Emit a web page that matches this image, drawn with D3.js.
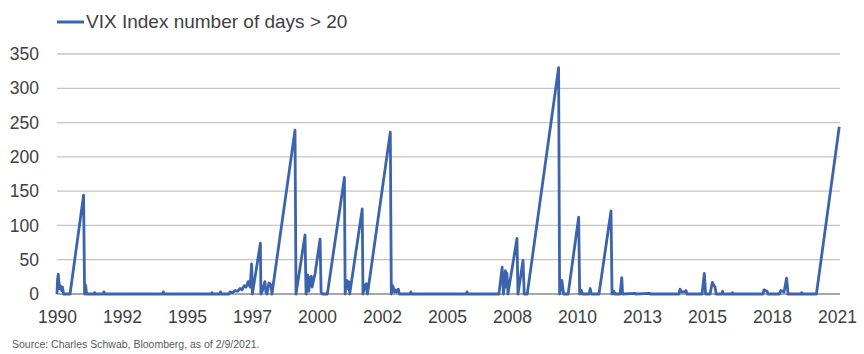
<!DOCTYPE html>
<html>
<head>
<meta charset="utf-8">
<script src="https://cdn.jsdelivr.net/npm/d3@7"></script>
<style>
  body { margin: 0; background: #fff; }
  text { font-family: "Liberation Sans", Arial, sans-serif; }
</style>
</head>
<body>
<div id="chart-area"></div>
<script>
// decimal years
let years = [
  1990.00, 1990.02, 1990.05, 1990.10, 1990.14, 1990.18, 1990.22, 1990.26, 1990.52, 1991.06,
  1991.10, 1991.14, 1991.18, 1991.48, 1991.50, 1991.52, 1991.85, 1991.87, 1991.89, 1994.22,
  1994.24, 1994.26, 1996.16, 1996.18, 1996.20, 1996.50, 1996.52, 1996.54, 1996.86, 1996.90,
  1997.00, 1997.10, 1997.20, 1997.30, 1997.38, 1997.46, 1997.54, 1997.62, 1997.70, 1997.76,
  1997.79, 1998.11, 1998.13, 1998.19, 1998.29, 1998.33, 1998.37, 1998.45, 1998.53, 1998.57,
  1999.49, 1999.53, 1999.89, 1999.93, 2000.00, 2000.04, 2000.08, 2000.14, 2000.17, 2000.29,
  2000.49, 2000.53, 2000.57, 2000.78, 2001.46, 2001.49, 2001.55, 2001.59, 2001.63, 2001.67,
  2002.17, 2002.20, 2002.27, 2002.33, 2002.36, 2002.38, 2003.29, 2003.33, 2003.39, 2003.45,
  2003.49, 2003.53, 2003.61, 2003.65, 2004.09, 2004.11, 2004.13, 2006.33, 2006.35, 2006.37,
  2007.62, 2007.75, 2007.80, 2007.88, 2007.91, 2007.94, 2007.98, 2008.34, 2008.38, 2008.58,
  2008.63, 2008.75, 2010.00, 2010.04, 2010.10, 2010.13, 2010.17, 2010.20, 2010.38, 2010.80,
  2010.84, 2010.91, 2010.95, 2011.22, 2011.26, 2011.30, 2011.61, 2012.09, 2012.13, 2012.21,
  2012.24, 2012.45, 2012.52, 2012.55, 2013.05, 2013.06, 2013.64, 2013.65, 2014.80, 2014.84,
  2014.90, 2015.04, 2015.08, 2015.12, 2015.72, 2015.81, 2015.86, 2016.04, 2016.13, 2016.20,
  2016.24, 2016.28, 2016.52, 2016.54, 2016.56, 2016.91, 2016.93, 2016.95, 2018.15, 2018.19,
  2018.31, 2018.35, 2018.80, 2018.86, 2018.99, 2019.09, 2019.15, 2019.67, 2019.69, 2019.71,
  2020.28, 2021.19
];

// VIX Index number of days > 20
let daysAbove20 = [
  0, 20, 29, 8, 12, 5, 10, 0, 0, 144,
  0, 13, 0, 0, 2, 0, 0, 3, 0, 0,
  3, 0, 0, 2, 0, 0, 3, 0, 0, 3,
  2, 5, 4, 8, 6, 12, 10, 18, 10, 44,
  0, 74, 0, 5, 18, 3, 0, 16, 13, 0,
  239, 0, 86, 0, 28, 4, 24, 26, 10, 30,
  80, 3, 0, 0, 170, 0, 20, 8, 18, 0,
  124, 0, 12, 15, 3, 0, 236, 0, 12, 3,
  6, 3, 7, 0, 0, 3, 0, 0, 3, 0,
  0, 39, 0, 34, 10, 30, 0, 81, 0, 49,
  0, 0, 330, 0, 10, 20, 8, 0, 0, 112,
  0, 5, 0, 0, 8, 0, 0, 121, 0, 4,
  0, 0, 24, 0, 1, 0, 1, 0, 0, 7,
  3, 3, 5, 0, 0, 30, 0, 0, 17, 12,
  10, 0, 0, 4, 0, 0, 2, 0, 0, 6,
  4, 0, 0, 5, 3, 23, 0, 0, 2, 0,
  0, 244
];

let tickLabels = ["1990", "1992", "1995", "1997", "2000", "2002", "2005",
                  "2008", "2010", "2013", "2015", "2018", "2021"];
let tickStep = 2.592;   // years between labels on the category axis
let yTicks = [0, 50, 100, 150, 200, 250, 300, 350];

let data = years.map(function(y, i){ return { year: y, value: daysAbove20[i] }; });

let margin = { left: 57, right: 24, top: 54, bottom: 60 };
let width = 864 - margin.left - margin.right;
let height = 354 - margin.top - margin.bottom;

let svg = d3.select("#chart-area")
            .append("svg")
            .attr("width", 864)
            .attr("height", 354);

let g = svg.append("g")
           .attr("transform", "translate(" + margin.left + "," + margin.top + ")");

let xScale = d3.scaleLinear()
               .domain([1990, 2021.22])
               .range([0, width]);

let yScale = d3.scaleLinear()
               .domain([0, 350])
               .range([height, 0]);

// gridlines
g.selectAll(".grid")
 .data(yTicks.filter(function(d){ return d > 0; }))
 .enter()
 .append("line")
   .attr("class", "grid")
   .attr("x1", 0)
   .attr("x2", width)
   .attr("y1", function(d){ return yScale(d); })
   .attr("y2", function(d){ return yScale(d); })
   .attr("stroke", "#c4c4c4")
   .attr("stroke-width", 1.3);

// zero line
g.append("line")
 .attr("x1", 0)
 .attr("x2", width)
 .attr("y1", yScale(0))
 .attr("y2", yScale(0))
 .attr("stroke", "#8a8a8a")
 .attr("stroke-width", 1.5);

// Y axis
let yAxis = d3.axisLeft(yScale)
              .tickValues(yTicks)
              .tickSize(0)
              .tickPadding(18);
let yg = g.append("g").attr("class", "y-axis").call(yAxis);
yg.select(".domain").remove();
yg.selectAll("text")
  .attr("font-size", "17.5px")
  .attr("font-family", "'Liberation Sans', Arial, sans-serif")
  .attr("fill", "#404040");

// X axis
let xTickValues = tickLabels.map(function(d, i){ return 1990 + i * tickStep; });
let xAxis = d3.axisBottom(xScale)
              .tickValues(xTickValues)
              .tickFormat(function(d, i){ return tickLabels[i]; })
              .tickSize(0)
              .tickPadding(17);
let xg = g.append("g")
          .attr("class", "x-axis")
          .attr("transform", "translate(0," + height + ")")
          .call(xAxis);
xg.select(".domain").remove();
xg.selectAll("text")
  .attr("font-size", "17.5px")
  .attr("font-family", "'Liberation Sans', Arial, sans-serif")
  .attr("fill", "#404040");

// the series
let line = d3.line()
             .x(function(d){ return xScale(d.year); })
             .y(function(d){ return yScale(d.value); });

g.append("path")
 .datum(data)
 .attr("d", line)
 .attr("fill", "none")
 .attr("stroke", "#3c64ad")
 .attr("stroke-width", 2.8)
 .attr("stroke-linejoin", "round");

// legend
svg.append("line")
   .attr("x1", 57)
   .attr("x2", 84)
   .attr("y1", 22)
   .attr("y2", 22)
   .attr("stroke", "#3c64ad")
   .attr("stroke-width", 3);

svg.append("text")
   .attr("x", 86)
   .attr("y", 28)
   .attr("font-size", "19px")
   .attr("fill", "#404040")
   .text("VIX Index number of days > 20");

// source note
svg.append("text")
   .attr("x", 12)
   .attr("y", 348)
   .attr("font-size", "10.5px")
   .attr("fill", "#595959")
   .text("Source: Charles Schwab, Bloomberg, as of 2/9/2021.");
</script>
</body>
</html>
